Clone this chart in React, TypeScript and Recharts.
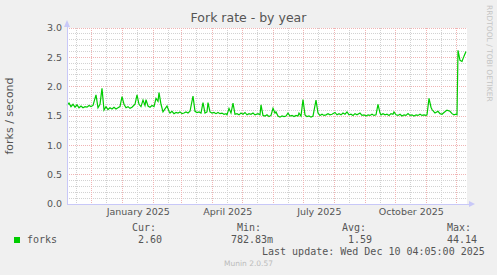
import { LineChart, Line, XAxis, YAxis, CartesianGrid } from 'recharts';

// days since the left edge of the 400-day window (early Nov 2024)
const days = [
  0, 2, 4, 6, 8, 10, 12, 14, 16, 18,
  20, 22, 24, 26, 29, 31, 33, 35, 37, 39,
  41, 43, 45, 47, 49, 51, 53, 55, 57, 59,
  61, 63, 65, 68, 70, 72, 74, 76, 78, 79,
  81, 83, 85, 87, 89, 91, 92, 94, 96, 98,
  100, 102, 103, 105, 107, 109, 111, 113, 115, 117,
  119, 121, 123, 126, 128, 130, 132, 134, 136, 138,
  140, 141, 143, 145, 147, 149, 151, 153, 155, 157,
  159, 160, 162, 164, 166, 168, 170, 172, 174, 176,
  178, 180, 182, 184, 186, 188, 191, 193, 194, 196,
  198, 200, 202, 204, 206, 208, 209, 211, 213, 215,
  217, 219, 221, 223, 225, 227, 229, 231, 232, 234,
  236, 238, 240, 242, 244, 246, 249, 251, 253, 255,
  257, 259, 261, 263, 265, 268, 270, 272, 274, 276,
  278, 280, 282, 284, 286, 288, 290, 293, 295, 297,
  299, 301, 303, 305, 307, 309, 311, 313, 314, 316,
  318, 320, 322, 324, 326, 327, 329, 331, 333, 335,
  337, 339, 341, 343, 345, 347, 349, 351, 353, 355,
  357, 359, 360, 362, 364, 365, 367, 368, 371, 373,
  375, 377, 380, 383, 385, 387, 389, 390, 391, 393,
  395, 397, 399,
];

const forks = [
  1.68, 1.72, 1.66, 1.70, 1.65, 1.69, 1.64, 1.67, 1.64, 1.66,
  1.65, 1.68, 1.66, 1.68, 1.86, 1.64, 1.70, 1.97, 1.60, 1.66,
  1.61, 1.64, 1.62, 1.65, 1.62, 1.64, 1.66, 1.83, 1.70, 1.64,
  1.66, 1.63, 1.65, 1.70, 1.86, 1.70, 1.66, 1.77, 1.68, 1.78,
  1.67, 1.65, 1.68, 1.66, 1.80, 1.75, 1.90, 1.70, 1.57, 1.62,
  1.67, 1.58, 1.55, 1.58, 1.54, 1.56, 1.55, 1.57, 1.54, 1.55,
  1.57, 1.55, 1.58, 1.84, 1.58, 1.56, 1.57, 1.55, 1.73, 1.55,
  1.57, 1.73, 1.57, 1.55, 1.56, 1.54, 1.56, 1.54, 1.55, 1.53,
  1.54, 1.52, 1.63, 1.55, 1.72, 1.53, 1.54, 1.52, 1.55, 1.53,
  1.56, 1.52, 1.54, 1.53, 1.55, 1.52, 1.54, 1.52, 1.69, 1.51,
  1.50, 1.52, 1.49, 1.51, 1.63, 1.55, 1.57, 1.50, 1.48, 1.50,
  1.49, 1.50, 1.55, 1.50, 1.51, 1.49, 1.51, 1.50, 1.55, 1.50,
  1.78, 1.52, 1.49, 1.50, 1.48, 1.50, 1.77, 1.55, 1.51, 1.53,
  1.51, 1.52, 1.54, 1.52, 1.53, 1.56, 1.52, 1.54, 1.52, 1.55,
  1.53, 1.57, 1.52, 1.53, 1.51, 1.54, 1.52, 1.55, 1.51, 1.52,
  1.50, 1.52, 1.51, 1.53, 1.51, 1.52, 1.70, 1.55, 1.52, 1.54,
  1.52, 1.53, 1.51, 1.54, 1.53, 1.57, 1.52, 1.51, 1.53, 1.50,
  1.52, 1.51, 1.54, 1.51, 1.52, 1.50, 1.52, 1.51, 1.53, 1.51,
  1.52, 1.51, 1.52, 1.80, 1.65, 1.61, 1.57, 1.55, 1.58, 1.54,
  1.53, 1.56, 1.60, 1.58, 1.54, 1.52, 1.53, 1.52, 2.62, 2.45,
  2.43, 2.52, 2.60,
];

// month starts (red grid) and mid-month lines (grey grid), in days
const monthStarts = [24.8, 55.8, 86.8, 114.8, 145.8, 175.8, 206.8, 236.8, 267.8, 298.8, 328.8, 359.8, 389.8];
const midMonths = [9.8, 39.8, 70.8, 101.8, 129.8, 160.8, 190.8, 221.8, 251.8, 282.8, 313.8, 343.8, 374.8];
const labelDays = [71.3, 160.8, 252.3, 344.3];
const labelNames = ['January 2025', 'April 2025', 'July 2025', 'October 2025'];

const yMajor = [0, 0.5, 1.0, 1.5, 2.0, 2.5, 3.0];
const yMinor = [0.1, 0.2, 0.3, 0.4, 0.6, 0.7, 0.8, 0.9, 1.1, 1.2, 1.3, 1.4, 1.6, 1.7, 1.8, 1.9, 2.1, 2.2, 2.3, 2.4, 2.6, 2.7, 2.8, 2.9];

const legendHeads = ['Cur:', 'Min:', 'Avg:', 'Max:'];
const legendValues = ['2.60', '782.83m', '1.59', '44.14'];
const headLeft = [132, 237, 342, 447];
const valueLeft = [138, 231, 348, 447];

const data = days.map((d, i) => ({ day: d, forks: forks[i] }));

const sans = '"DejaVu Sans", sans-serif';
const mono = '"DejaVu Sans Mono", monospace';
const axisBlue = '#c8c8f8';

export default function App() {
  return (
    <div style={{ position: 'absolute', left: 0, top: 0, width: 497, height: 275, background: '#f0f0f0', overflow: 'hidden' }}>
      <div style={{ position: 'absolute', left: 0, top: 10, width: 497, textAlign: 'center', fontFamily: sans, fontSize: 12.5, color: '#555' }}>
        Fork rate - by year
      </div>
      <LineChart width={497} height={275} data={data} margin={{ top: 28, right: 30, left: 0, bottom: 0 }}>
        <CartesianGrid fill="#ffffff" stroke="#d2d2d2" strokeDasharray="1 1" shapeRendering="crispEdges"
          horizontalValues={yMinor} verticalValues={midMonths} />
        <CartesianGrid stroke="#f0b4b4" strokeDasharray="1 1" shapeRendering="crispEdges"
          horizontalValues={yMajor} verticalValues={monthStarts} />
        <XAxis
          dataKey="day"
          type="number"
          domain={[0, 400]}
          ticks={labelDays}
          tickFormatter={(v) => labelNames[labelDays.indexOf(v)] ?? ''}
          height={71}
          axisLine={false}
          tickLine={false}
          tickSize={2}
          tickMargin={2}
          interval={0}
          tick={{ fill: '#555', fontSize: 9.5, fontFamily: sans }}
        />
        <YAxis
          type="number"
          domain={[0, 3]}
          ticks={yMajor}
          width={67}
          axisLine={false}
          tickLine={false}
          tickSize={3}
          tickMargin={2}
          interval={0}
          tickFormatter={(v) => Number(v).toFixed(1)}
          tick={{ fill: '#555', fontSize: 9.5, fontFamily: sans }}
        />
        <Line type="linear" dataKey="forks" stroke="#00cc00" strokeWidth={1.2} dot={false} isAnimationActive={false} />
      </LineChart>
      <svg width={497} height={275} style={{ position: 'absolute', left: 0, top: 0, pointerEvents: 'none' }}>
        <line x1={67} y1={24} x2={67} y2={204} stroke={axisBlue} shapeRendering="crispEdges" />
        <line x1={67} y1={204} x2={470} y2={204} stroke={axisBlue} shapeRendering="crispEdges" />
        <polygon points="64,27 70,27 67,20" fill={axisBlue} />
        <polygon points="469,201 469,207 475,204" fill={axisBlue} />
        <text x={0} y={0} transform="translate(13,116) rotate(-90)" textAnchor="middle"
          fontFamily={sans} fontSize={11} fill="#555">forks / second</text>
      </svg>
      <div style={{ position: 'absolute', left: 485, top: 5, writingMode: 'vertical-rl', fontFamily: sans, fontSize: 7.5, color: '#c4c4c4' }}>
        RRDTOOL / TOBI OETIKER
      </div>
      {legendHeads.map((h, i) => (
        <div key={h} style={{ position: 'absolute', left: headLeft[i], top: 222, fontFamily: mono, fontSize: 10, color: '#555' }}>{h}</div>
      ))}
      <div style={{ position: 'absolute', left: 14, top: 237, width: 6, height: 6, background: '#00cc00' }} />
      <div style={{ position: 'absolute', left: 27, top: 234, fontFamily: mono, fontSize: 10, color: '#555' }}>forks</div>
      {legendValues.map((v, i) => (
        <div key={v} style={{ position: 'absolute', left: valueLeft[i], top: 234, fontFamily: mono, fontSize: 10, color: '#555' }}>{v}</div>
      ))}
      <div style={{ position: 'absolute', left: 262, top: 246, fontFamily: mono, fontSize: 10, color: '#555' }}>
        Last update: Wed Dec 10 04:05:00 2025
      </div>
      <div style={{ position: 'absolute', left: 0, top: 259, width: 497, textAlign: 'center', fontFamily: sans, fontSize: 7.5, color: '#bbb' }}>
        Munin 2.0.57
      </div>
    </div>
  );
}
